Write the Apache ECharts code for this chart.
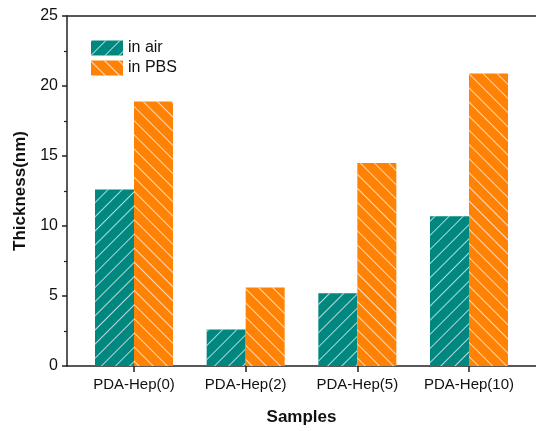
<!DOCTYPE html>
<html>
<head>
<meta charset="utf-8">
<script src="https://cdn.jsdelivr.net/npm/echarts@6/dist/echarts.min.js"></script>
<style>
  html, body { margin: 0; padding: 0; background: #fff; }
  #chart { width: 536px; height: 431px; }
</style>
</head>
<body>
<div id="chart"></div>
<script>
// samples and their positions on the x axis
const samples = ["PDA-Hep(0)", "PDA-Hep(2)", "PDA-Hep(5)", "PDA-Hep(10)"];
const samplePos = [1, 2, 3, 4];
const inAir = [12.6, 2.6, 5.2, 10.7];
const inPBS = [18.9, 5.6, 14.5, 20.9];
const yTicks = [0, 5, 10, 15, 20, 25];

const font = "Arial, 'Liberation Sans', sans-serif";

function pairs(vals) {
  let arr = [];
  for (let i = 0; i < vals.length; i++) {
    arr.push([samplePos[i], vals[i]]);
  }
  return arr;
}

function hatch(rot) {
  return {
    symbol: "rect",
    symbolSize: 1,
    color: "rgba(255,255,255,0.7)",
    dashArrayX: [1, 0],
    dashArrayY: [1, 9],
    rotation: rot,
  };
}

let myChart = echarts.init(document.getElementById("chart"), null, { renderer: "canvas" });
myChart.setOption({
  animation: false,
  aria: { enabled: true, decal: { show: true } },
  grid: { left: 67, right: -4, top: 16, bottom: 64 },
  legend: {
    left: 91, top: 40, orient: "vertical", padding: 0,
    icon: "rect",
    itemWidth: 32, itemHeight: 15, itemGap: 4,
    textStyle: { fontFamily: font, fontSize: 16, color: "#111" },
    data: ["in air", "in PBS"],
  },
  xAxis: [{
    type: "value", min: 0.4, max: 4.6,
    name: "Samples", nameLocation: "middle", nameGap: 43,
    nameTextStyle: { fontFamily: font, fontSize: 17, fontWeight: "bold", color: "#111" },
    splitLine: { show: false },
    axisLine: { lineStyle: { color: "#222", width: 1.5 } },
    axisTick: { customValues: samplePos, length: 6, inside: false, lineStyle: { color: "#222", width: 1.5 } },
    axisLabel: {
      customValues: samplePos, margin: 11,
      fontFamily: font, fontSize: 15, color: "#111",
      formatter: (v) => samples[samplePos.indexOf(v)] || "",
    },
  }, {
    type: "value", position: "top", min: 0.4, max: 4.6,
    splitLine: { show: false },
    axisLine: { show: true, lineStyle: { color: "#222", width: 1.5 } },
    axisTick: { show: false }, axisLabel: { show: false },
  }],
  yAxis: {
    type: "value", min: 0, max: 25, interval: 5,
    name: "Thickness(nm)", nameLocation: "middle", nameGap: 37,
    nameTextStyle: { fontFamily: font, fontSize: 17, fontWeight: "bold", color: "#111" },
    splitLine: { show: false },
    axisLine: { show: true, lineStyle: { color: "#222", width: 1.5 } },
    axisTick: { length: 5, lineStyle: { color: "#222", width: 1.5 } },
    minorTick: { show: true, splitNumber: 2, length: 3, lineStyle: { color: "#222", width: 1.2 } },
    axisLabel: {
      margin: 9, fontFamily: font, fontSize: 16, color: "#111",
      customValues: yTicks,
    },
  },
  series: [{
    name: "in air", type: "bar", barWidth: 39, barGap: "0%",
    data: pairs(inAir),
    itemStyle: { color: "#00877f", decal: hatch(-Math.PI / 4) },
  }, {
    name: "in PBS", type: "bar", barWidth: 39, barGap: "0%",
    data: pairs(inPBS),
    itemStyle: { color: "#ff8204", decal: hatch(Math.PI / 4) },
  }],
});
</script>
</body>
</html>
